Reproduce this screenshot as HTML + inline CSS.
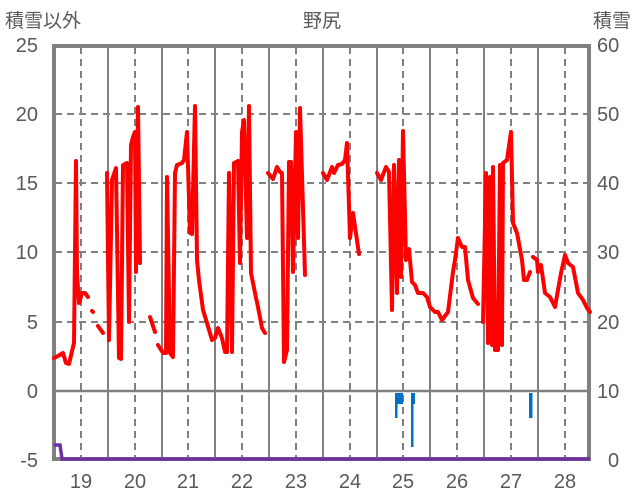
<!DOCTYPE html>
<html><head><meta charset="utf-8"><style>
html,body{margin:0;padding:0;background:#fff;}
svg{display:block;}
text{font-family:"Liberation Sans","Noto Sans CJK JP",sans-serif;fill:#595959;}
</style></head><body>
<svg width="636" height="501" viewBox="0 0 636 501" xmlns="http://www.w3.org/2000/svg">
<rect width="636" height="501" fill="#fff"/>
<g stroke="#808080" stroke-width="2" stroke-dasharray="7,5">
<line x1="55" y1="114" x2="590" y2="114"/>
<line x1="55" y1="183" x2="590" y2="183"/>
<line x1="55" y1="252" x2="590" y2="252"/>
<line x1="55" y1="322" x2="590" y2="322"/>
<line x1="81" y1="47" x2="81" y2="459"/>
<line x1="135" y1="47" x2="135" y2="459"/>
<line x1="188" y1="47" x2="188" y2="459"/>
<line x1="242" y1="47" x2="242" y2="459"/>
<line x1="296" y1="47" x2="296" y2="459"/>
<line x1="350" y1="47" x2="350" y2="459"/>
<line x1="403" y1="47" x2="403" y2="459"/>
<line x1="457" y1="47" x2="457" y2="459"/>
<line x1="511" y1="47" x2="511" y2="459"/>
<line x1="565" y1="47" x2="565" y2="459"/>
</g>
<g stroke="#808080" stroke-width="2">
<line x1="108" y1="47" x2="108" y2="459"/>
<line x1="162" y1="47" x2="162" y2="459"/>
<line x1="215" y1="47" x2="215" y2="459"/>
<line x1="269" y1="47" x2="269" y2="459"/>
<line x1="323" y1="47" x2="323" y2="459"/>
<line x1="377" y1="47" x2="377" y2="459"/>
<line x1="430" y1="47" x2="430" y2="459"/>
<line x1="484" y1="47" x2="484" y2="459"/>
<line x1="538" y1="47" x2="538" y2="459"/>
<line x1="55" y1="391" x2="590" y2="391" stroke-width="2.5"/>
</g>
<rect x="54" y="46" width="535" height="413" fill="none" stroke="#808080" stroke-width="4"/>
<g fill="#0070c0">
<rect x="395" y="393" width="2.5" height="25"/>
<rect x="395" y="393" width="8" height="11"/>
<rect x="411" y="393" width="4" height="11"/>
<rect x="411" y="393" width="2.5" height="54"/>
<rect x="529" y="393" width="3.5" height="25"/>
</g>
<polyline points="54,445 60,445 62,459 590,459" fill="none" stroke="#7030a0" stroke-width="3.5"/>
<g fill="none" stroke="#ff0000" stroke-width="4" stroke-linejoin="round" stroke-linecap="round">
<polyline points="54,358 58,356 63,353 66,363 69,364 73,347 74,343 76,161 77,273 79,303 82,293 85,293 88,297"/>
<polyline points="92,311 93,312"/>
<polyline points="98,326 103,333"/>
<polyline points="107,173 109,340 112,180 116,168 119,358 121,359 123,165 127,163 129,322 131,145 133,137 135,132 136,272 138,107 140,263"/>
<polyline points="150,317 155,332"/>
<polyline points="158,345 163,353 166,353 167,177 170,353 173,357 175,173 177,165 182,163 184,160 187,132 190,233 192,234 195,106 197,260 199,280 203,310 207,323 212,340 215,338 218,328 222,338 225,352 227,352 229,173 232,352 234,163 238,161 240,263 242,132 244,120 247,238 249,106 251,273 255,293 258,307 262,328 265,333"/>
<polyline points="268,173 273,179 277,167 280,172 282,173 284,362 287,350 289,162 291,162 293,272 296,132 298,238 300,108 305,275"/>
<polyline points="323,173 327,180 332,167 334,173 338,165 342,164 345,160 347,143 350,238 353,213 359,254"/>
<polyline points="377,173 381,180 386,167 389,172 392,310 394,165 397,293 399,160 401,277 403,131 406,260 409,249 412,282 415,285 418,293 423,293 427,297 430,307 435,312 438,312 442,320 448,312 453,272 455,260 458,238 462,247 465,247 468,280 473,298 478,304"/>
<polyline points="483,322 486,173 488,343 490,177 492,345 493,167 495,350 498,350 500,165 502,345 503,163 507,160 511,132 513,223 517,233 522,260 524,280 527,280 530,272"/>
<polyline points="533,257 537,260 538,272 541,265 545,293 550,297 555,307 561,273 565,255 568,263 573,267 578,293 583,300 587,308 590,312"/>
</g>
<g font-size="20" text-anchor="end">
<text x="38" y="52">25</text>
<text x="38" y="121">20</text>
<text x="38" y="190">15</text>
<text x="38" y="259">10</text>
<text x="38" y="329">5</text>
<text x="38" y="398">0</text>
<text x="38" y="467">-5</text>
</g>
<g font-size="20" text-anchor="start">
<text x="597" y="52">60</text>
<text x="597" y="121">50</text>
<text x="597" y="190">40</text>
<text x="597" y="259">30</text>
<text x="597" y="329">20</text>
<text x="597" y="398">10</text>
<text x="608" y="467">0</text>
</g>
<g font-size="20" text-anchor="middle">
<text x="81" y="488">19</text>
<text x="135" y="488">20</text>
<text x="188" y="488">21</text>
<text x="242" y="488">22</text>
<text x="296" y="488">23</text>
<text x="350" y="488">24</text>
<text x="403" y="488">25</text>
<text x="457" y="488">26</text>
<text x="511" y="488">27</text>
<text x="565" y="488">28</text>
</g>
<text x="5" y="27" font-size="19">積雪以外</text>
<text x="322" y="27" font-size="19" text-anchor="middle">野尻</text>
<text x="631" y="27" font-size="19" text-anchor="end">積雪</text>
</svg>
</body></html>
